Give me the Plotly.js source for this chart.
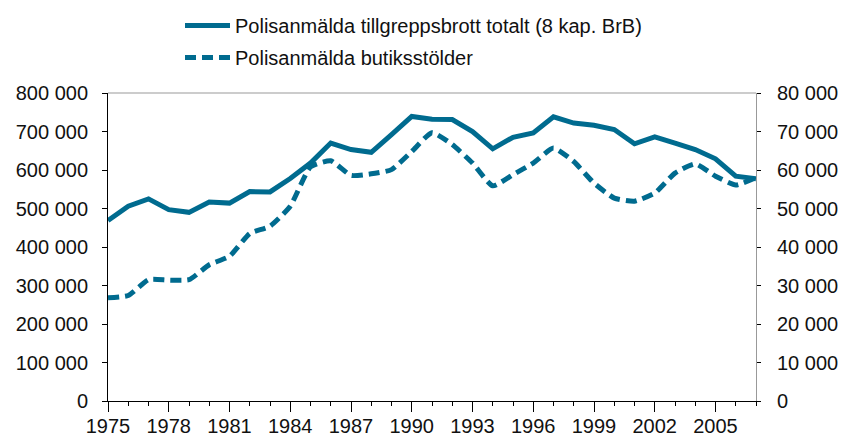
<!DOCTYPE html>
<html>
<head>
<meta charset="utf-8">
<script src="https://cdn.plot.ly/plotly-3.0.1.min.js"></script>
<style>
  html, body { margin: 0; padding: 0; background: #ffffff; }
  #chart { width: 842px; height: 437px; }
</style>
</head>
<body>
<div id="chart"></div>
<script>
// Years (x categories)
const years = [1975,1976,1977,1978,1979,1980,1981,1982,1983,1984,1985,1986,1987,1988,1989,1990,
               1991,1992,1993,1994,1995,1996,1997,1998,1999,2000,2001,2002,2003,2004,2005,2006,2007];

// Polisanmälda tillgreppsbrott totalt (left axis)
const totalTheft = [469000,506000,525000,497000,490000,517000,514000,544000,543000,578000,618000,670000,
                    653000,646000,692000,739000,732000,731000,700000,655000,685000,696000,738000,722000,
                    716000,705000,668000,686000,670000,653000,629000,584000,577000];

// Polisanmälda butiksstölder (right axis)
const shopTheft = [26800,27400,31500,31400,31500,35400,37600,43500,45400,50600,60800,62400,58600,59000,
                   60100,64800,69700,66600,61800,55900,58800,61800,65700,62200,56600,52700,51900,54000,
                   59200,61600,58400,56100,58000];

// Series names
const seriesNames = ["Polisanmälda tillgreppsbrott totalt (8 kap. BrB)", "Polisanmälda butiksstölder"];

// Tick labels
const xTickVals = [1975,1978,1981,1984,1987,1990,1993,1996,1999,2002,2005];
const xTickText = ["1975","1978","1981","1984","1987","1990","1993","1996","1999","2002","2005"];
const yLeftVals = [0,100000,200000,300000,400000,500000,600000,700000,800000];
const yLeftText = ["0","100 000","200 000","300 000","400 000","500 000","600 000","700 000","800 000"];
const yRightVals = [0,10000,20000,30000,40000,50000,60000,70000,80000];
const yRightText = ["0","10 000","20 000","30 000","40 000","50 000","60 000","70 000","80 000"];

const lineColor = "#006b8f";
const fontFam = "Liberation Sans, Arial, sans-serif";

const traces = [
  {
    x: years, y: totalTheft, name: seriesNames[0], type: "scatter", mode: "lines",
    line: { color: lineColor, width: 5 }, yaxis: "y", legendgroup: "a"
  },
  {
    x: years, y: shopTheft, name: seriesNames[1], type: "scatter", mode: "lines",
    line: { color: lineColor, width: 5, dash: "11px,6px", shape: "spline", smoothing: 0.5 },
    yaxis: "y2", legendgroup: "b"
  }
];

const layout = {
  width: 842, height: 437,
  margin: { l: 108, r: 86, t: 93, b: 36, autoexpand: false },
  paper_bgcolor: "#ffffff", plot_bgcolor: "#ffffff",
  font: { family: fontFam, size: 20, color: "#111111" },
  showlegend: true,
  legend: {
    x: (180 - 108) / 648, xanchor: "left",
    y: 1 + (93 - 6) / 308, yanchor: "top",
    orientation: "v", traceorder: "grouped", tracegroupgap: 3,
    itemwidth: 45, bgcolor: "rgba(0,0,0,0)", borderwidth: 0,
    font: { family: fontFam, size: 20, color: "#111111" }
  },
  xaxis: {
    range: [1975, 2007], showgrid: false, zeroline: false,
    showline: true, linecolor: "#000000", linewidth: 1,
    ticks: "outside", ticklen: 10, tickwidth: 1, tickcolor: "#000000",
    tickvals: xTickVals, ticktext: xTickText, ticklabelstandoff: -3,
    minor: { dtick: 1, tick0: 1975, ticks: "outside", ticklen: 4, tickwidth: 1, tickcolor: "#000000", showgrid: false },
    tickfont: { family: fontFam, size: 20, color: "#111111" }
  },
  yaxis: {
    range: [0, 800000], showgrid: false, zeroline: false,
    showline: true, linecolor: "#000000", linewidth: 1,
    ticks: "outside", ticklen: 5, tickwidth: 1, tickcolor: "#000000",
    tickvals: yLeftVals, ticktext: yLeftText, ticklabelstandoff: 10,
    tickfont: { family: fontFam, size: 20, color: "#111111" }
  },
  yaxis2: {
    range: [0, 80000], overlaying: "y", side: "right", showgrid: false, zeroline: false,
    showline: true, linecolor: "#999999", linewidth: 1,
    ticks: "outside", ticklen: 4, tickwidth: 1, tickcolor: "#000000",
    tickvals: yRightVals, ticktext: yRightText, ticklabelstandoff: 12,
    tickfont: { family: fontFam, size: 20, color: "#111111" }
  },
  shapes: [
    { type: "line", xref: "paper", yref: "paper", x0: 0, x1: 1, y0: 1, y1: 1,
      line: { color: "#999999", width: 1 } }
  ]
};

Plotly.newPlot("chart", traces, layout, { staticPlot: true, displayModeBar: false });
</script>
</body>
</html>
